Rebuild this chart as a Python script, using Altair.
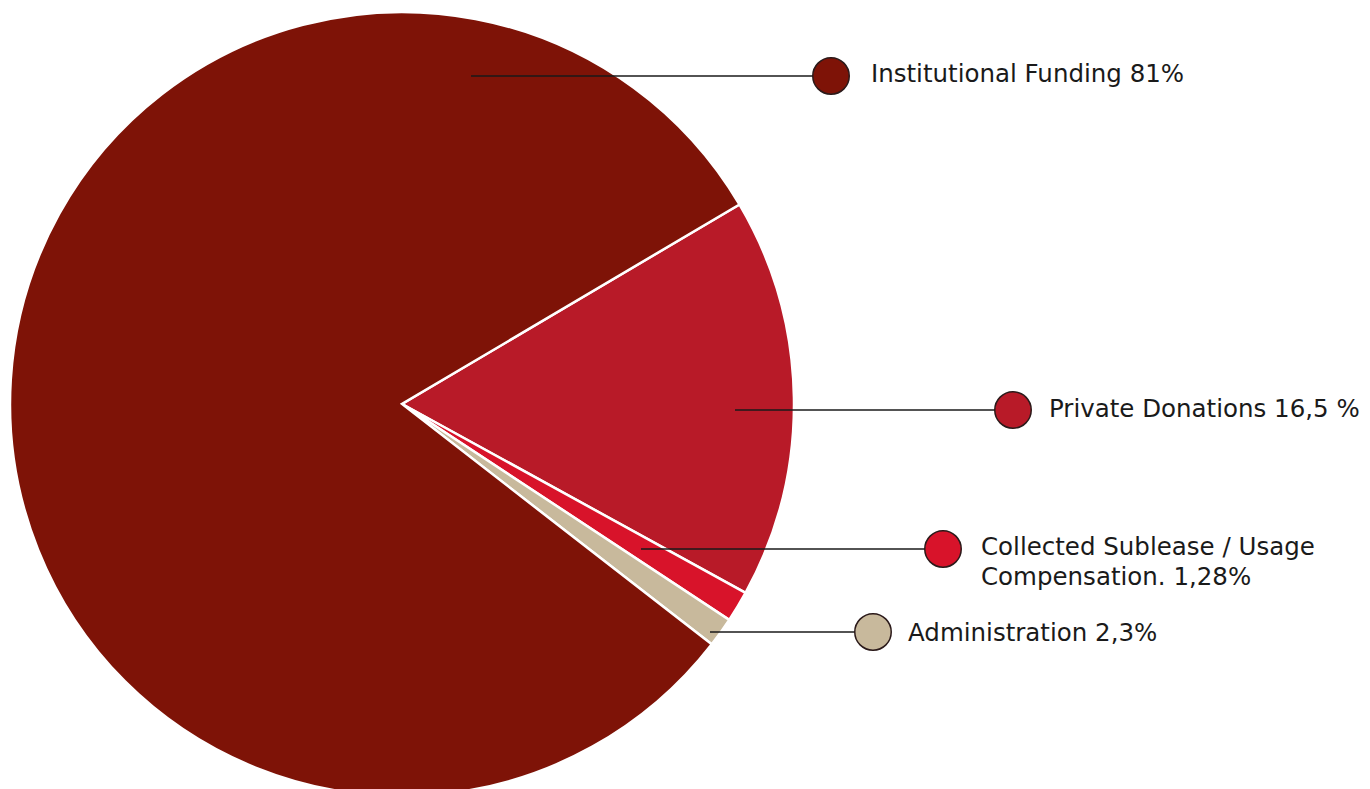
import math
import altair as alt
import pandas as pd

# ---- data ----
categories = ["Private Donations", "Collected Sublease / Usage Compensation", "Administration", "Institutional Funding"]
values = [16.5, 1.28, 1.22, 81.0]
labels = ["Private Donations 16,5 %", "Collected Sublease / Usage\nCompensation. 1,28%", "Administration 2,3%", "Institutional Funding 81%"]
colors = ["#B81A28", "#D8132A", "#C8B99C", "#7E1307"]

# ---- layout (pixels) ----
pie_cx, pie_cy, pie_r = 402, 404, 392
start_angle = math.radians(59.4)
line_x0 = [735, 641, 710, 471]
line_y0 = [410, 549, 632, 76]
marker_x = [1013, 943, 873, 831]
marker_y = [410, 549, 632, 76]
text_x = [1049, 981, 908, 871]
text_y = [410, 548, 634, 75]

pie_df = pd.DataFrame({"category": categories, "value": values, "order": list(range(len(values)))})
ann_df = pd.DataFrame({
    "category": categories, "label": labels,
    "x0": line_x0, "y0": line_y0, "mx": marker_x, "my": marker_y,
    "tx": text_x, "ty": text_y,
})

color_scale = alt.Scale(domain=categories, range=colors)

pie = alt.Chart(pie_df).mark_arc(radius=pie_r, stroke="white", strokeWidth=2.5).encode(
    theta=alt.Theta("value:Q", stack=True, scale=alt.Scale(range=[start_angle, start_angle + 2 * math.pi])),
    color=alt.Color("category:N", scale=color_scale, legend=None),
    order=alt.Order("order:Q"),
    x=alt.value(pie_cx),
    y=alt.value(pie_cy),
)

lines = alt.Chart(ann_df).mark_rule(color="#1a1a1a", strokeWidth=1.3).encode(
    x=alt.X("x0:Q", scale=None),
    x2="mx:Q",
    y=alt.Y("y0:Q", scale=None),
    y2="my:Q",
)

markers = alt.Chart(ann_df).mark_point(shape="circle", filled=True, size=1330, stroke="#2b1a1a", strokeWidth=1.5, opacity=1).encode(
    x=alt.X("mx:Q", scale=None),
    y=alt.Y("my:Q", scale=None),
    fill=alt.Fill("category:N", scale=color_scale, legend=None),
)

texts = alt.Chart(ann_df).mark_text(align="left", baseline="middle", font="DejaVu Sans", fontSize=24.5,
                                    color="#1a1a1a", lineBreak="\n", lineHeight=30).encode(
    x=alt.X("tx:Q", scale=None),
    y=alt.Y("ty:Q", scale=None),
    text="label:N",
)

chart = alt.layer(pie, lines, markers, texts).properties(
    width=1370, height=789, padding=0, autosize=alt.AutoSizeParams(type="none")
).configure_view(stroke=None)

chart.save("out.html", embed_options={"renderer": "svg", "actions": False})
